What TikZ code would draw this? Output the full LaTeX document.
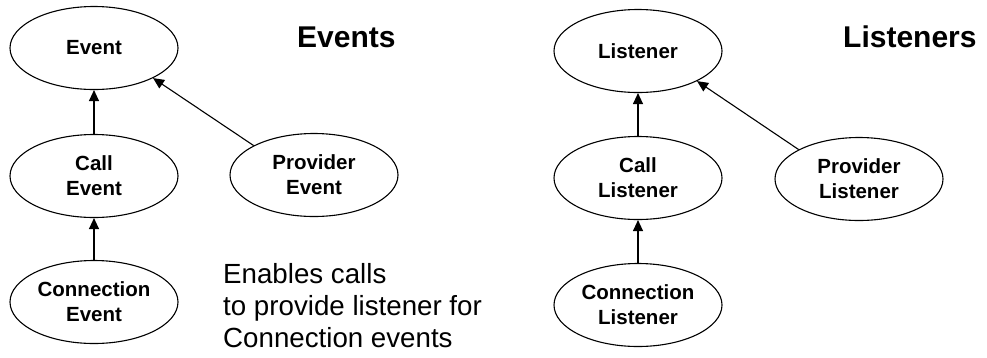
\documentclass[tikz,border=0pt]{standalone}
\usepackage{fontspec}
\setmainfont{Liberation Sans}
\usetikzlibrary{shapes.geometric,arrows.meta}

\tikzset{
  cls/.style={draw, ellipse, line width=1.1pt, minimum width=168pt, minimum height=83pt,
    inner sep=0pt, align=center, font=\fontsize{20.5}{25}\selectfont\bfseries},
  inherit/.style={line width=1.1pt, -{Triangle[length=11pt,width=10pt]}},
  heading/.style={anchor=base west, inner sep=0pt, font=\fontsize{30}{36}\selectfont\bfseries},
  note/.style={anchor=north west, inner sep=0pt, align=left, font=\fontsize{27.7}{32}\selectfont}
}

\begin{document}
\begin{tikzpicture}[x=1pt, y=-1pt]
  \useasboundingbox (0,0) rectangle (987,357);

  % Event hierarchy
  \node[cls] (event) at (94,48) {Event};
  \node[cls] (callev) at (94,176) {Call\\Event};
  \node[cls] (connev) at (94,302) {Connection\\Event};
  \node[cls] (provev) at (314,175) {Provider\\Event};
  \node[heading] (evtitle) at (297,47) {Events};
  \node[note] (evnote) at (223,263) {Enables calls\\to provide listener for\\Connection events};

  \draw[inherit] (callev) -- (event);
  \draw[inherit] (connev) -- (callev);
  \draw[inherit] (provev.154) -- (event.-27);

  % Listener hierarchy
  \node[cls] (listener) at (638,51) {Listener};
  \node[cls] (calllis) at (638,178) {Call\\Listener};
  \node[cls] (connlis) at (638,305) {Connection\\Listener};
  \node[cls] (provlis) at (859,179) {Provider\\Listener};
  \node[heading] (listitle) at (843,47) {Listeners};

  \draw[inherit] (calllis) -- (listener);
  \draw[inherit] (connlis) -- (calllis);
  \draw[inherit] (provlis.154) -- (listener.-27);
\end{tikzpicture}
\end{document}
